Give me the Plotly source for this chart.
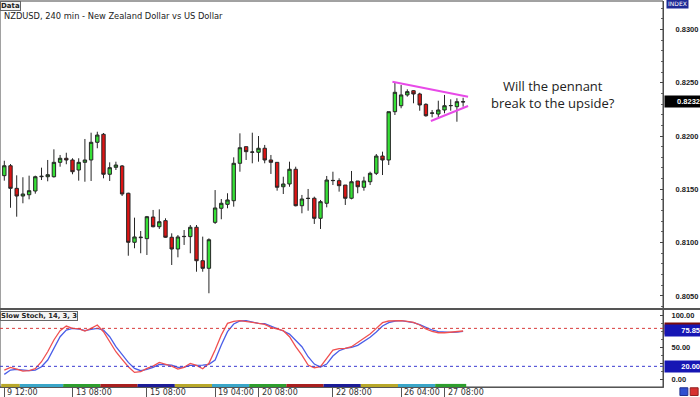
import plotly.graph_objects as go
from plotly.subplots import make_subplots

# ---------------- data ----------------
opens = [0.81628, 0.81721, 0.81509, 0.81437, 0.81449, 0.81484, 0.81618, 0.81618, 0.81618, 0.81753,
         0.81791, 0.81775, 0.81681, 0.81753, 0.81775, 0.81941, 0.82016, 0.81641, 0.81706, 0.81719,
         0.81463, 0.81003, 0.81046, 0.81037, 0.81240, 0.81149, 0.81206, 0.81050, 0.80940, 0.81056,
         0.81056, 0.81144, 0.80830, 0.80759, 0.81190, 0.81322, 0.81359, 0.81393, 0.81744, 0.81900,
         0.81847, 0.81847, 0.81885, 0.81775, 0.81753, 0.81524, 0.81550, 0.81688, 0.81346, 0.81416,
         0.81416, 0.81228, 0.81369, 0.81581, 0.81581, 0.81540, 0.81416, 0.81578, 0.81519, 0.81571,
         0.81650, 0.81812, 0.81775, 0.82228, 0.82284, 0.82385, 0.82425, 0.82394, 0.82297, 0.82213,
         0.82206, 0.82244, 0.82284, 0.82275, 0.82322]
highs = [0.81768, 0.81737, 0.81631, 0.81613, 0.81628, 0.81628, 0.81703, 0.81775, 0.81875, 0.81822,
         0.81843, 0.81791, 0.81791, 0.81972, 0.82031, 0.82040, 0.82028, 0.81753, 0.81759, 0.81728,
         0.81468, 0.81234, 0.81109, 0.81250, 0.81306, 0.81312, 0.81228, 0.81087, 0.81071, 0.81118,
         0.81165, 0.81165, 0.81056, 0.81040, 0.81493, 0.81409, 0.81463, 0.81800, 0.82025, 0.81900,
         0.82031, 0.82000, 0.81916, 0.81822, 0.81753, 0.81618, 0.81759, 0.81712, 0.81447, 0.81503,
         0.81431, 0.81400, 0.81625, 0.81665, 0.81603, 0.81540, 0.81672, 0.81578, 0.81618, 0.81665,
         0.81831, 0.81853, 0.82228, 0.82500, 0.82478, 0.82438, 0.82430, 0.82406, 0.82307, 0.82244,
         0.82331, 0.82385, 0.82344, 0.82354, 0.82359]
lows = [0.81581, 0.81327, 0.81243, 0.81369, 0.81406, 0.81459, 0.81587, 0.81575, 0.81610, 0.81712,
        0.81735, 0.81641, 0.81581, 0.81571, 0.81578, 0.81885, 0.81603, 0.81578, 0.81681, 0.81437,
        0.80877, 0.80947, 0.80900, 0.80884, 0.81143, 0.81128, 0.81045, 0.80790, 0.80862, 0.80978,
        0.80900, 0.80727, 0.80727, 0.80525, 0.81175, 0.81219, 0.81322, 0.81337, 0.81665, 0.81775,
        0.81744, 0.81759, 0.81744, 0.81644, 0.81487, 0.81456, 0.81524, 0.81340, 0.81275, 0.81299,
        0.81175, 0.81128, 0.81331, 0.81540, 0.81478, 0.81353, 0.81406, 0.81463, 0.81487, 0.81540,
        0.81634, 0.81634, 0.81728, 0.82197, 0.82260, 0.82369, 0.82307, 0.82237, 0.82181, 0.82175,
        0.82175, 0.82213, 0.82237, 0.82134, 0.82275]
closes = [0.81721, 0.81509, 0.81437, 0.81456, 0.81487, 0.81618, 0.81622, 0.81637, 0.81753, 0.81791,
          0.81775, 0.81665, 0.81753, 0.81775, 0.81941, 0.82009, 0.81641, 0.81703, 0.81728, 0.81456,
          0.81003, 0.81053, 0.81050, 0.81243, 0.81149, 0.81196, 0.81050, 0.80940, 0.81053, 0.81058,
          0.81144, 0.80830, 0.80759, 0.81027, 0.81325, 0.81369, 0.81400, 0.81744, 0.81890, 0.81853,
          0.81850, 0.81885, 0.81775, 0.81753, 0.81519, 0.81550, 0.81688, 0.81346, 0.81409, 0.81414,
          0.81228, 0.81384, 0.81587, 0.81583, 0.81534, 0.81416, 0.81571, 0.81524, 0.81578, 0.81650,
          0.81812, 0.81775, 0.82228, 0.82410, 0.82385, 0.82416, 0.82394, 0.82291, 0.82190, 0.82216,
          0.82244, 0.82284, 0.82286, 0.82322, 0.82320]

stoch_main = [14.1, 18.3, 15.7, 12.5, 13.1, 16.2, 27.3, 43.1, 61.6, 76.3,
              83.7, 80.0, 79.5, 75.8, 80.0, 85.3, 74.7, 58.9, 43.1, 31.0,
              19.4, 10.4, 11.5, 16.8, 20.4, 26.2, 23.6, 20.4, 15.7, 18.3,
              24.7, 21.5, 16.2, 24.7, 45.7, 69.5, 87.9, 91.1, 92.1, 91.1,
              89.5, 87.9, 86.3, 81.6, 78.4, 76.3, 66.8, 51.0, 37.8, 22.0,
              17.8, 19.4, 32.6, 45.7, 47.9, 48.4, 51.0, 57.3, 63.7, 71.0,
              80.0, 89.0, 91.6, 92.1, 92.1, 91.1, 89.5, 85.3, 79.0, 75.3,
              73.1, 73.1, 74.2, 74.7, 75.85]
stoch_signal = [7.3, 14.1, 15.2, 14.1, 13.1, 14.1, 19.4, 30.0, 48.4, 66.8,
                77.4, 80.0, 79.0, 76.3, 78.4, 80.0, 77.4, 66.8, 51.0, 38.9,
                26.2, 16.8, 13.1, 15.2, 18.3, 23.1, 23.1, 22.0, 18.3, 18.9,
                21.5, 21.5, 22.0, 23.1, 29.9, 53.8, 74.7, 86.9, 91.6, 92.1,
                89.5, 87.9, 87.4, 83.7, 80.0, 75.8, 71.0, 60.5, 51.0, 35.2,
                23.6, 18.9, 23.6, 36.3, 44.7, 48.4, 50.0, 53.1, 59.4, 65.8,
                74.2, 83.7, 89.0, 91.6, 92.1, 91.1, 89.0, 85.8, 81.1, 77.4,
                74.7, 73.7, 73.7, 74.2, 75.3]
stoch_levels = [80, 20]

tick_index = [0, 11, 23, 34, 41, 53, 64, 71]
tick_labels = ["9 12:00", "13 08:00", "15 08:00", "19 04:00", "20 08:00", "22 08:00", "26 04:00", "27 08:00"]

# trading-day colour strip: (first candle, last candle, weekday)
day_strips = [(0, 2, "Fri"), (3, 9, "Mon"), (10, 15, "Tue"), (16, 21, "Wed"), (22, 27, "Thu"),
              (28, 33, "Fri"), (34, 39, "Mon"), (40, 45, "Tue"), (46, 51, "Wed"), (52, 57, "Thu"),
              (58, 63, "Fri"), (64, 69, "Mon"), (70, 74, "Tue")]

pennant_upper_x = [62.6, 74.8]
pennant_upper_y = [0.82509, 0.82369]
pennant_lower_x = [68.8, 74.8]
pennant_lower_y = [0.82141, 0.82281]

# ---------------- styling ----------------
day_colors = {"Mon": "#3aa6c8", "Tue": "#2e9e2e", "Wed": "#a82020", "Thu": "#1c1c96", "Fri": "#b8a82a"}
idx = list(range(len(opens)))
X_RANGE = [-0.694, 106.24]

fig = make_subplots(rows=2, cols=1, shared_xaxes=False, vertical_spacing=0.0,
                    row_heights=[0.8, 0.2])

fig.add_trace(go.Candlestick(
    x=idx, open=opens, high=highs, low=lows, close=closes,
    increasing=dict(line=dict(color="#262626", width=1), fillcolor="#36e036"),
    decreasing=dict(line=dict(color="#262626", width=1), fillcolor="#dc1414"),
    whiskerwidth=0, showlegend=False, hoverinfo="skip"), row=1, col=1)

fig.add_trace(go.Scatter(x=pennant_upper_x, y=pennant_upper_y, mode="lines",
                         line=dict(color="#e84ae8", width=2), showlegend=False, hoverinfo="skip"),
              row=1, col=1)
fig.add_trace(go.Scatter(x=pennant_lower_x, y=pennant_lower_y, mode="lines",
                         line=dict(color="#e84ae8", width=2), showlegend=False, hoverinfo="skip"),
              row=1, col=1)

fig.add_trace(go.Scatter(x=idx, y=stoch_signal, mode="lines",
                         line=dict(color="#4a5ee8", width=1.3), showlegend=False, hoverinfo="skip"),
              row=2, col=1)
fig.add_trace(go.Scatter(x=idx, y=stoch_main, mode="lines",
                         line=dict(color="#f05050", width=1.3), showlegend=False, hoverinfo="skip"),
              row=2, col=1)

W, H = 700, 397
ML, MR, MT, MB = 0, 37, 1, 10
plot_h = H - MT - MB
main_bottom = (H - MB - 308) / plot_h
stoch_top = (H - MB - 310) / plot_h

axis_font = dict(family="Liberation Sans", size=7.5, color="#222", weight="bold")

fig.update_layout(
    width=W, height=H, margin=dict(l=ML, r=MR, t=MT, b=MB, autoexpand=False),
    paper_bgcolor="white", plot_bgcolor="white", boxgap=0.22,
    xaxis=dict(domain=[0, 1], range=X_RANGE, showgrid=False, zeroline=False, showticklabels=False,
               ticks="", rangeslider=dict(visible=False), showline=False, fixedrange=True),
    xaxis2=dict(domain=[0, 1], range=X_RANGE, showgrid=False, zeroline=False, showticklabels=False,
                tickvals=tick_index, ticks="outside", ticklen=10, tickcolor="#555", tickwidth=1,
                showline=True, linecolor="#666", linewidth=1),
    yaxis=dict(domain=[main_bottom, 1], range=[0.803866, 0.832663], side="right",
               tick0=0.805, dtick=0.005, tickformat=".4f", ticks="inside", ticklen=3, tickcolor="#444",
               minor=dict(dtick=0.001, ticks="inside", ticklen=2, tickcolor="#666"),
               showgrid=False, zeroline=False, showline=True, linecolor="#555", linewidth=1,
               tickfont=axis_font, ticklabelstandoff=10),
    yaxis2=dict(domain=[0, stoch_top], range=[-12.64, 109.0], side="right",
                tickvals=[0, 25, 50, 100], tickformat=".2f", ticks="inside", ticklen=3, tickcolor="#444",
                minor=dict(dtick=12.5, ticks="inside", ticklen=2, tickcolor="#666"),
                showgrid=False, zeroline=False, showline=True, linecolor="#555", linewidth=1,
                tickfont=axis_font, ticklabelstandoff=6),
)

shapes = []
# chart frame and panel separator
shapes.append(dict(type="rect", xref="paper", yref="paper", x0=0, x1=1, y0=0, y1=1,
                   line=dict(color="#444", width=1)))
shapes.append(dict(type="line", xref="paper", yref="paper", x0=0, x1=1.06, y0=(main_bottom + stoch_top) / 2,
                   y1=(main_bottom + stoch_top) / 2, line=dict(color="#555", width=2)))
# stochastic levels
for lvl, col in zip(stoch_levels, ["#d83a3a", "#3a3ad0"]):
    shapes.append(dict(type="line", xref="x2 domain", yref="y2", x0=0, x1=1, y0=lvl, y1=lvl,
                       line=dict(color=col, width=1, dash="dot")))
# day colour strip
for a, b, d in day_strips:
    shapes.append(dict(type="rect", xref="x2", yref="paper", x0=a - 0.5, x1=b + 0.5, y0=0, y1=0.008,
                       line=dict(width=0), fillcolor=day_colors[d]))
# small icons bottom-right
shapes.append(dict(type="rect", xref="paper", yref="paper", x0=1.0255, x1=1.0375, y0=-0.022, y1=-0.002,
                   fillcolor="#3050d0", line=dict(color="#203090", width=1)))
shapes.append(dict(type="rect", xref="paper", yref="paper", x0=1.041, x1=1.053, y0=-0.022, y1=-0.002,
                   fillcolor="#d83030", line=dict(color="#902020", width=1)))
fig.update_layout(shapes=shapes)

ann = []
# x-axis labels, left aligned just right of each tick
for i, t in zip(tick_index, tick_labels):
    ann.append(dict(x=i, y=0, xref="x2", yref="paper", text=t, showarrow=False,
                    xanchor="left", yanchor="top", xshift=1, yshift=1,
                    font=dict(family="DejaVu Sans", size=8, color="#333")))
# Data box + title
ann.append(dict(x=0.0, y=1.0, xref="paper", yref="paper", text="<b>Data</b>", showarrow=False,
                xanchor="left", yanchor="top", xshift=0, yshift=0, bgcolor="#f2f2f2",
                bordercolor="#666", borderwidth=1, borderpad=0,
                font=dict(family="DejaVu Sans", size=7, color="#222")))
ann.append(dict(x=0.0, y=1.0, xref="paper", yref="paper",
                text="NZDUSD, 240 min - New Zealand Dollar vs US Dollar", showarrow=False,
                xanchor="left", yanchor="top", xshift=2, yshift=-8,
                font=dict(family="DejaVu Sans", size=8.3, color="#222")))
# stochastic label
ann.append(dict(x=0.0, y=stoch_top, xref="paper", yref="paper", text="<b>Slow Stoch, 14, 3, 3</b>",
                showarrow=False, xanchor="left", yanchor="top", yshift=-1, bgcolor="#f4f4f4",
                bordercolor="#666", borderwidth=1, borderpad=0,
                font=dict(family="DejaVu Sans", size=6.8, color="#222")))
# commentary
ann.append(dict(x=88.5, y=0.82389, xref="x", yref="y", text="Will the pennant<br>break to the upside?",
                showarrow=False, xanchor="center", yanchor="middle",
                font=dict(family="Open Sans", size=13, color="#222")))
# INDEX tag
ann.append(dict(x=1.005, y=1.0, xref="paper", yref="paper", text="INDEX", showarrow=False,
                xanchor="left", yanchor="top", yshift=3, bgcolor="#1e2a96", borderpad=1,
                font=dict(family="DejaVu Sans", size=6, color="white")))
# value boxes
box_font = dict(family="Liberation Sans", size=7.5, color="white", weight="bold")
ann.append(dict(x=1.0015, y=closes[-1], xref="paper", yref="y", text=f"{closes[-1]:.4f}",
                showarrow=False, xanchor="left", yanchor="middle", bgcolor="#000", width=34,
                align="right", borderpad=1, font=box_font))
ann.append(dict(x=1.0015, y=stoch_levels[0], xref="paper", yref="y2", text=f"{stoch_levels[0]:.2f}",
                showarrow=False, xanchor="left", yanchor="middle", bgcolor="#7a0c0c", width=34,
                align="right", borderpad=1, font=box_font))
ann.append(dict(x=1.0015, y=stoch_main[-1], xref="paper", yref="y2", text=f"{stoch_main[-1]:.2f}",
                showarrow=False, xanchor="left", yanchor="middle", bgcolor="#1616b4", width=34,
                align="right", borderpad=1, font=box_font))
ann.append(dict(x=1.0015, y=stoch_levels[1], xref="paper", yref="y2", text=f"{stoch_levels[1]:.2f}",
                showarrow=False, xanchor="left", yanchor="middle", bgcolor="#1616b4", width=34,
                align="right", borderpad=1, font=box_font))
fig.update_layout(annotations=ann)

fig.write_html("out.html", config={"displayModeBar": False},
               post_script="document.body.style.margin='0';document.body.style.overflow='hidden';")
